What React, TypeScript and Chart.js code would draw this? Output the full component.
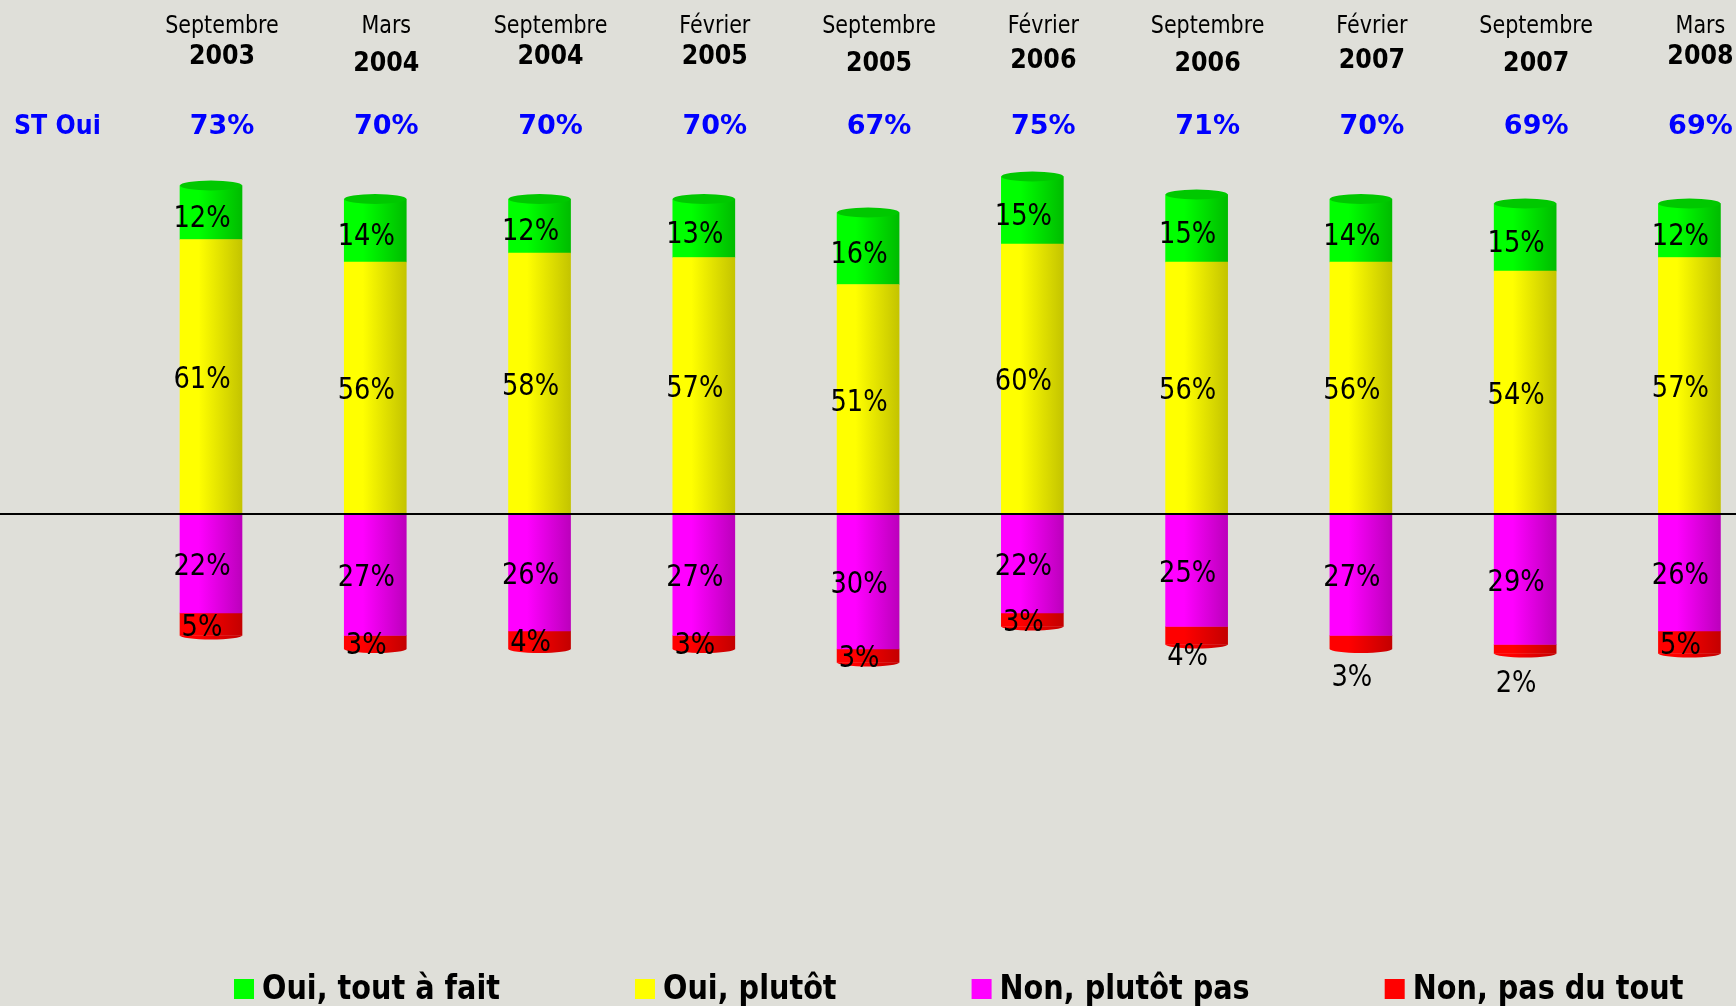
import React, { useEffect, useRef } from "react";
import { Chart, registerables } from "chart.js";

Chart.register(...registerables);

// ---------- data ----------
const months = ["Septembre", "Mars", "Septembre", "Février", "Septembre", "Février", "Septembre", "Février", "Septembre", "Mars"];
const years = ["2003", "2004", "2004", "2005", "2005", "2006", "2006", "2007", "2007", "2008"];
const stOuiLabel = "ST Oui";
const stOui = [73, 70, 70, 70, 67, 75, 71, 70, 69, 69];
const ouiToutAFait = [12, 14, 12, 13, 16, 15, 15, 14, 15, 12];
const ouiPlutot = [61, 56, 58, 57, 51, 60, 56, 56, 54, 57];
const nonPlutotPas = [22, 27, 26, 27, 30, 22, 25, 27, 29, 26];
const nonPasDuTout = [5, 3, 4, 3, 3, 3, 4, 3, 2, 5];
const seriesNames = ["Oui, tout à fait", "Oui, plutôt", "Non, plutôt pas", "Non, pas du tout"];

// ---------- styles ----------
const W = 1736;
const H = 1006;
const BG = "#DFDFD9";
const BAR_W = 62;
const FONT = '"DejaVu Sans", Verdana, sans-serif';
const yearDy = [0, 7, 0, 0, 7, 3.5, 7, 3.5, 7, 0];
const redLabelDy = [0, 0, 0, 0, 0, 0, 18, 32, 32, 0];
const COLORS = {
  green: ["#00FF00", "#00BC00"],
  yellow: ["#FFFF00", "#C4C400"],
  magenta: ["#FF00FF", "#BC00BC"],
  red: ["#FF0000", "#C40000"],
};

function drawText(
  ctx: CanvasRenderingContext2D,
  s: string,
  x: number,
  yCenter: number,
  size: number,
  bold: boolean,
  sx: number,
  color: string,
  align: CanvasTextAlign
) {
  ctx.save();
  ctx.font = `${bold ? "bold " : ""}${size}px ${FONT}`;
  ctx.fillStyle = color;
  ctx.textBaseline = "alphabetic";
  ctx.textAlign = align;
  ctx.translate(x, yCenter + 0.3645 * size);
  ctx.scale(sx, 1);
  ctx.fillText(s, 0, 0);
  ctx.restore();
}

function gradientAt(ctx: CanvasRenderingContext2D, x: number, pair: string[]) {
  if (!isFinite(x)) return pair[0];
  const g = ctx.createLinearGradient(x - BAR_W / 2, 0, x + BAR_W / 2, 0);
  g.addColorStop(0, pair[0]);
  g.addColorStop(0.3, pair[0]);
  g.addColorStop(1, pair[1]);
  return g;
}

const seriesPairs = [COLORS.yellow, COLORS.green, COLORS.magenta, COLORS.red];

function scriptedFill(pair: string[]) {
  return (c: any) => {
    const xs = c.chart && c.chart.scales && c.chart.scales.x;
    const x = xs ? xs.getPixelForValue(c.dataIndex) : NaN;
    return gradientAt(c.chart.ctx, x, pair);
  };
}

const decorPlugin = {
  id: "decor",
  beforeDraw(chart: any) {
    const ctx = chart.ctx;
    ctx.save();
    ctx.fillStyle = BG;
    ctx.fillRect(0, 0, chart.width, chart.height);
    ctx.restore();
  },
  beforeDatasetsDraw(chart: any) {
    // cylinder-like horizontal shading for every bar, from its laid-out position
    const ctx: CanvasRenderingContext2D = chart.ctx;
    chart.data.datasets.forEach((_ds: any, di: number) => {
      const meta = chart.getDatasetMeta(di);
      meta.data.forEach((el: any) => {
        if (el.options && !Object.isFrozen(el.options)) {
          el.options.backgroundColor = gradientAt(ctx, el.x, seriesPairs[di]);
        }
      });
    });
  },
  afterDatasetsDraw(chart: any) {
    const ctx: CanvasRenderingContext2D = chart.ctx;
    const xs = chart.scales.x;
    const ys = chart.scales.y;

    // top caps on the green segments
    const greenMeta = chart.getDatasetMeta(1);
    greenMeta.data.forEach((el: any) => {
      ctx.save();
      ctx.fillStyle = "#00C800";
      ctx.beginPath();
      ctx.ellipse(el.x, el.y, BAR_W / 2, 5, 0, 0, Math.PI * 2);
      ctx.fill();
      ctx.restore();
    });
    // bottom rounding on the red segments
    const redMeta = chart.getDatasetMeta(3);
    redMeta.data.forEach((el: any) => {
      ctx.save();
      ctx.fillStyle = gradientAt(ctx, el.x, COLORS.red);
      ctx.beginPath();
      ctx.ellipse(el.x, el.y, BAR_W / 2, 4, 0, 0, Math.PI);
      ctx.fill();
      ctx.restore();
    });

    // zero line
    const y0 = ys.getPixelForValue(0);
    ctx.save();
    ctx.strokeStyle = "#000";
    ctx.lineWidth = 2;
    ctx.beginPath();
    ctx.moveTo(0, y0);
    ctx.lineTo(chart.width, y0);
    ctx.stroke();
    ctx.restore();

    // segment labels
    chart.data.datasets.forEach((ds: any, di: number) => {
      const meta = chart.getDatasetMeta(di);
      meta.data.forEach((el: any, i: number) => {
        const v = Math.abs(ds.data[i]);
        let cy = (el.y + el.base) / 2;
        if (di === 1) cy += 3;
        if (di === 3) cy += redLabelDy[i];
        drawText(ctx, `${v}%`, el.x - 9, cy, 31, false, 0.83, "#000", "center");
      });
    });

    // header rows
    for (let i = 0; i < months.length; i++) {
      const hx = xs.getPixelForValue(i) + 11;
      drawText(ctx, months[i], hx, 24.5, 24, false, 0.86, "#000", "center");
      drawText(ctx, years[i], hx, 54.5 + yearDy[i], 27, true, 0.88, "#000", "center");
      drawText(ctx, `${stOui[i]}%`, hx, 124.5, 27, true, 1.0, "#0000FF", "center");
    }
    drawText(ctx, stOuiLabel, 14, 124.5, 27, true, 0.88, "#0000FF", "left");

    // legend
    const legendColors = [COLORS.green[0], COLORS.yellow[0], COLORS.magenta[0], COLORS.red[0]];
    let lx = 234;
    const size = 33;
    const sx = 0.87;
    seriesNames.forEach((name, k) => {
      ctx.save();
      ctx.fillStyle = legendColors[k];
      ctx.fillRect(lx, 979, 20, 20);
      ctx.restore();
      drawText(ctx, name, lx + 28, 987, size, true, sx, "#000", "left");
      ctx.save();
      ctx.font = `bold ${size}px ${FONT}`;
      const w = ctx.measureText(name).width * sx;
      ctx.restore();
      lx = lx + 28 + w + 135;
    });
  },
};

export default function App() {
  const ref = useRef<HTMLCanvasElement | null>(null);

  useEffect(() => {
    if (!ref.current) return;
    const n = months.length;
    const firstX = 211;
    const step = 164.27;
    const lastX = firstX + step * (n - 1);
    const chart = new Chart(ref.current, {
      type: "bar",
      data: {
        labels: months.map((m, i) => `${m} ${years[i]}`),
        datasets: [
          { label: seriesNames[1], data: ouiPlutot, backgroundColor: scriptedFill(COLORS.yellow), barThickness: BAR_W, borderWidth: 0, clip: false as any },
          { label: seriesNames[0], data: ouiToutAFait, backgroundColor: scriptedFill(COLORS.green), barThickness: BAR_W, borderWidth: 0, clip: false as any },
          { label: seriesNames[2], data: nonPlutotPas.map((v) => -v), backgroundColor: scriptedFill(COLORS.magenta), barThickness: BAR_W, borderWidth: 0, clip: false as any },
          { label: seriesNames[3], data: nonPasDuTout.map((v) => -v), backgroundColor: scriptedFill(COLORS.red), barThickness: BAR_W, borderWidth: 0, clip: false as any },
        ],
      },
      options: {
        responsive: false,
        animation: false,
        devicePixelRatio: 1,
        layout: {
          padding: { left: firstX, right: W - lastX, top: 154, bottom: 132 },
        },
        plugins: {
          legend: { display: false },
          tooltip: { enabled: false },
          title: { display: false },
        },
        scales: {
          x: { stacked: true, display: false, offset: false, grid: { display: false } },
          y: { stacked: true, display: false, min: -80, max: 80, grid: { display: false } },
        },
      },
      plugins: [decorPlugin],
    });
    return () => chart.destroy();
  }, []);

  return (
    <div style={{ position: "absolute", left: 0, top: 0, width: W, height: H, background: BG }}>
      <canvas ref={ref} width={W} height={H} style={{ display: "block", width: W, height: H }} />
    </div>
  );
}
